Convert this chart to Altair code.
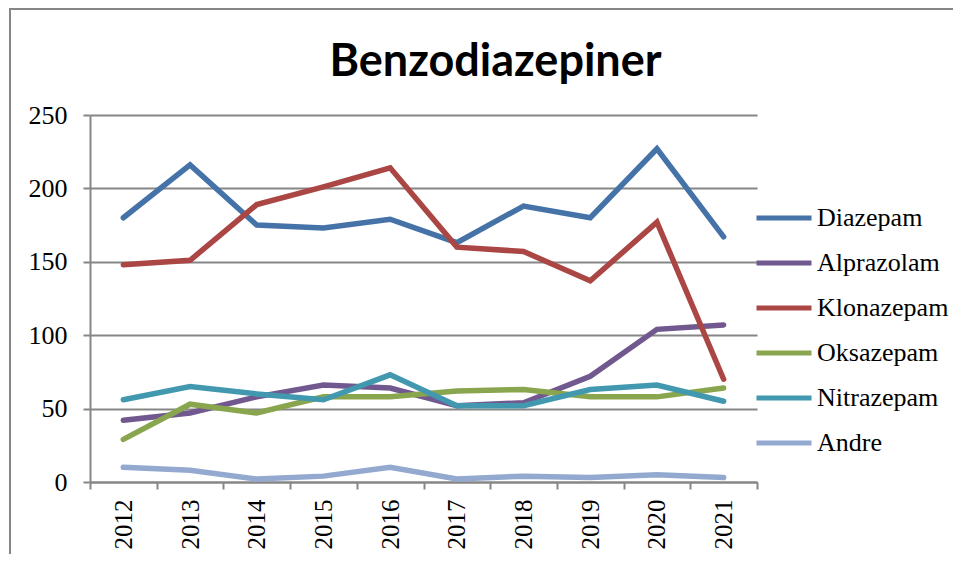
import altair as alt
import pandas as pd

years = ["2012", "2013", "2014", "2015", "2016", "2017", "2018", "2019", "2020", "2021"]
series_names = ["Diazepam", "Alprazolam", "Klonazepam", "Oksazepam", "Nitrazepam", "Andre"]
diazepam = [180, 216, 175, 173, 179, 163, 188, 180, 227, 167]
alprazolam = [42, 47, 58, 66, 64, 52, 54, 72, 104, 107]
klonazepam = [148, 151, 189, 201, 214, 160, 157, 137, 177, 70]
oksazepam = [29, 53, 47, 58, 58, 62, 63, 58, 58, 64]
nitrazepam = [56, 65, 60, 56, 73, 52, 52, 63, 66, 55]
andre = [10, 8, 2, 4, 10, 2, 4, 3, 5, 3]
colors = ["#4572A7", "#71588F", "#AA4643", "#89A54E", "#4198AF", "#93A9CF"]

values = [diazepam, alprazolam, klonazepam, oksazepam, nitrazepam, andre]
rows = []
for name, vals in zip(series_names, values):
    for y, v in zip(years, vals):
        rows.append({"År": y, "Serie": name, "Antall": v})
df = pd.DataFrame(rows)

GRAY = "#868686"
SERIF = "Liberation Serif"

lines = alt.Chart(df).mark_line(strokeWidth=5.5, strokeCap="round", strokeJoin="miter").encode(
    x=alt.X("År:O", bandPosition=0.5,
            scale=alt.Scale(type="band", domain=years, paddingInner=0, paddingOuter=0),
            axis=alt.Axis(title=None, labelAngle=-90, labelFont=SERIF, labelFontSize=25,
                          labelColor="black", tickBand="extent", tickSize=7, tickColor=GRAY,
                          tickWidth=2, domainColor=GRAY, domainWidth=2, labelPadding=10,
                          grid=False)),
    y=alt.Y("Antall:Q",
            scale=alt.Scale(domain=[0, 250], nice=False),
            axis=alt.Axis(title=None, values=[0, 50, 100, 150, 200, 250], labelFont=SERIF,
                          labelFontSize=26, labelColor="black", tickSize=7, tickColor=GRAY,
                          tickWidth=2, domainColor=GRAY, domainWidth=2, labelPadding=16,
                          gridColor=GRAY, gridWidth=2)),
    color=alt.Color("Serie:N",
                    scale=alt.Scale(domain=series_names, range=colors),
                    legend=alt.Legend(title=None, orient="none", legendX=664, legendY=73,
                                      symbolType="stroke", symbolSize=3025,
                                      symbolStrokeWidth=5, labelFont=SERIF, labelFontSize=26,
                                      labelColor="black", rowPadding=2, labelOffset=3,
                                      labelLimit=300)),
    order=alt.Order("Serie:N"),
)

border = alt.Chart(pd.DataFrame({"a": [0]})).mark_rect(
    fill="transparent", stroke=GRAY, strokeWidth=2
).encode(
    x=alt.value(-80), x2=alt.value(1000), y=alt.value(-106), y2=alt.value(600)
)

chart = alt.layer(border, lines).properties(
    width=667,
    height=367,
    padding={"left": 82, "top": 107, "right": 196, "bottom": 72},
    autosize=alt.AutoSizeParams(type="none"),
    title=alt.TitleParams("Benzodiazepiner", font="Lato", fontSize=45, fontWeight="bold",
                          color="black", anchor="middle", frame="group", dx=72,
                          baseline="alphabetic", offset=-113),
).configure_view(stroke="transparent")

chart.save("out.html", embed_options={"renderer": "svg", "actions": False})
